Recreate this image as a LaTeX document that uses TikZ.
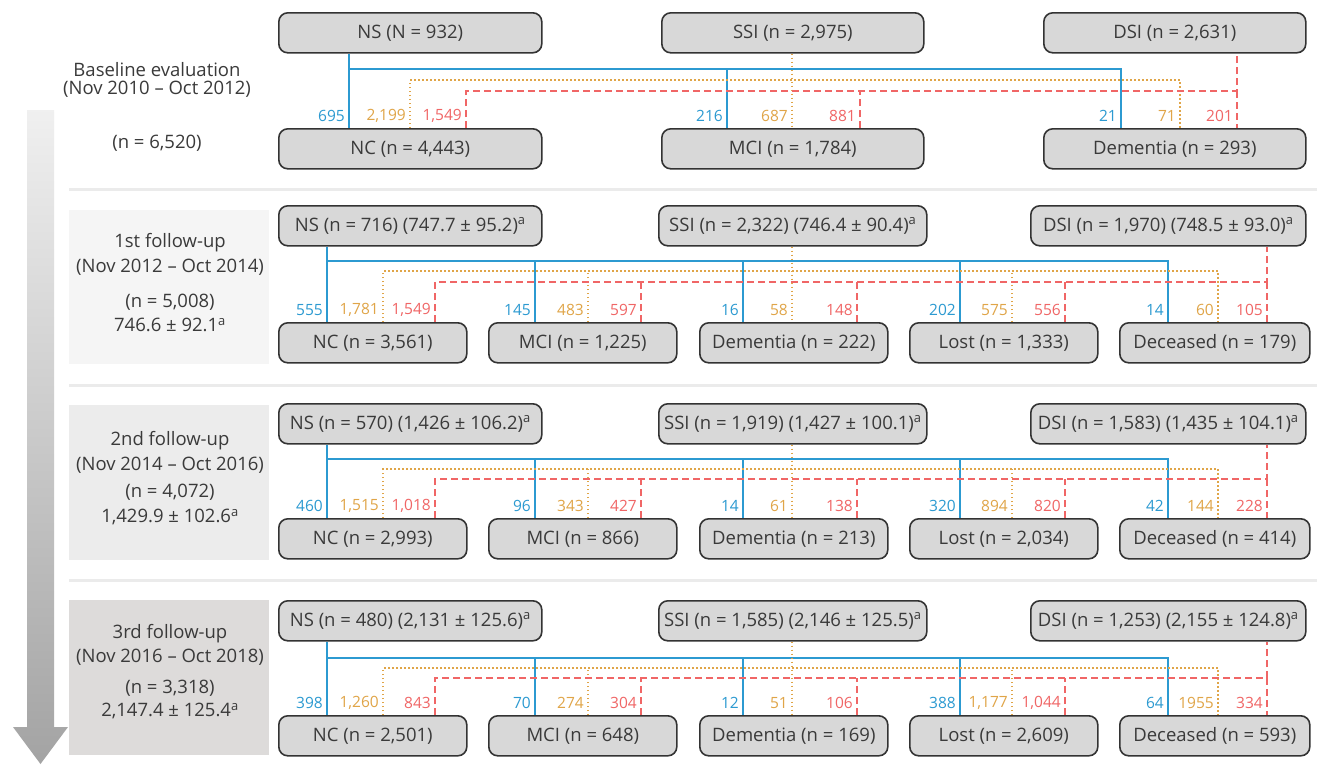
\documentclass[tikz,border=0pt]{standalone}
\usepackage{fontspec}
\setmainfont{Open Sans}
\definecolor{cblue}{HTML}{2C9AD1}
\definecolor{corange}{HTML}{E0A548}
\definecolor{cred}{HTML}{F06666}
\definecolor{boxfill}{HTML}{D8D8D8}
\definecolor{boxline}{HTML}{333333}
\definecolor{txt}{HTML}{3A3A3A}
\definecolor{panelA}{HTML}{F5F5F5}
\definecolor{panelB}{HTML}{ECECEC}
\definecolor{panelC}{HTML}{DDDBDA}
\definecolor{sepcol}{HTML}{EBEBEB}
\tikzset{
  box/.style={draw=boxline, line width=1.6pt, fill=boxfill, rounded corners=9pt,
    minimum height=40pt, inner sep=0pt, anchor=north west, text=txt,
    font=\fontsize{18.5}{22}\selectfont},
  lab/.style={anchor=east, inner sep=0pt, font=\fontsize{15.5}{18}\selectfont},
  side/.style={text=txt, inner sep=0pt, font=\fontsize{18.5}{22}\selectfont},
  bl/.style={draw=cblue, line width=1.5pt},
  orl/.style={draw=corange, line width=1.5pt, dash pattern=on 1.5pt off 2.5pt},
  rdl/.style={draw=cred, line width=1.5pt, dash pattern=on 7pt off 4pt},
  sepline/.style={draw=sepcol, line width=3pt}
}
\newcommand\trip[7]{%
  \node[lab,text=cblue] (#1b) at ([xshift=#2pt-4pt,yshift=12pt]#1.north west) {#5};
  \node[lab,text=corange] (#1o) at ([xshift=#3pt-4pt,yshift=12pt]#1.north west) {#6};
  \node[lab,text=cred] (#1r) at ([xshift=#4pt-4pt,yshift=12pt]#1.north west) {#7};
}
\newcommand\fulines[1]{%
  \draw[bl] ([xshift=49pt]ns#1.south west) -- ([xshift=49pt]nc#1.north west);
  \draw[bl] ([xshift=49pt]ns#1.south west |- hb#1) -| ([xshift=49pt]dec#1.north west);
  \draw[bl] ([xshift=47pt]mci#1.north west) -- ([xshift=47pt]mci#1.north west |- hb#1);
  \draw[bl] ([xshift=44pt]dem#1.north west) -- ([xshift=44pt]dem#1.north west |- hb#1);
  \draw[bl] ([xshift=51pt]lost#1.north west) -- ([xshift=51pt]lost#1.north west |- hb#1);
  \draw[orl] ([xshift=105pt]nc#1.north west) -- ([xshift=105pt]nc#1.north west |- ho#1) -| ([xshift=99pt]dec#1.north west);
  \draw[orl] ([xshift=134pt]ssi#1.south west) -- ([xshift=134pt]ssi#1.south west |- dem#1.north);
  \draw[orl] ([xshift=100pt]mci#1.north west) -- ([xshift=100pt]mci#1.north west |- ho#1);
  \draw[orl] ([xshift=103pt]lost#1.north west) -- ([xshift=103pt]lost#1.north west |- ho#1);
  \draw[rdl] ([xshift=157pt]nc#1.north west) -- ([xshift=157pt]nc#1.north west |- hr#1) -| ([xshift=237pt]dsi#1.south west);
  \draw[rdl] ([xshift=237pt]dsi#1.south west |- hr#1) -- ([xshift=237pt]dsi#1.south west |- dec#1.north);
  \draw[rdl] ([xshift=153pt]mci#1.north west) -- ([xshift=153pt]mci#1.north west |- hr#1);
  \draw[rdl] ([xshift=158pt]dem#1.north west) -- ([xshift=158pt]dem#1.north west |- hr#1);
  \draw[rdl] ([xshift=156pt]lost#1.north west) -- ([xshift=156pt]lost#1.north west |- hr#1);
}
\newcommand\fuboxes[9]{%
  \node[box,minimum width=263pt] (ns#1) at (278,#2) {#3};
  \node[box,minimum width=268pt] (ssi#1) at (658,#2) {#4};
  \node[box,minimum width=275pt] (dsi#1) at (1030,#2) {#5};
  \node[box,minimum width=188pt] (nc#1) at (278,#6) {#7};
  \node[box,minimum width=188pt] (mci#1) at (488,#6) {#8};
  \node[box,minimum width=188pt] (dem#1) at (699,#6) {#9};
}
\begin{document}
\begin{tikzpicture}[x=1pt,y=-1pt]
\useasboundingbox[fill=white] (0,0) rectangle (1317,764);
% panels and separators
\fill[panelA] (69,210) rectangle (269,364);
\fill[panelB] (69,405) rectangle (269,560);
\fill[panelC] (69,600) rectangle (269,755);
\draw[sepline] (69,189) -- (1317,189);
\draw[sepline] (69,385) -- (1317,385);
\draw[sepline] (69,580) -- (1317,580);
% time arrow
\shade[top color=white!94!black, bottom color=black!36]
  (27,110) -- (54,110) -- (54,727) -- (68,727) -- (40.5,764) -- (13,727) -- (27,727) -- cycle;
% side texts
\node[side] (b1) at (157,70) {Baseline evaluation};
\node[side] (b2) at (157,89) {(Nov 2010 – Oct 2012)};
\node[side] (b3) at (157,143) {(n = 6,520)};
\node[side] (f1a) at (170,243) {1st follow-up};
\node[side] (f1b) at (170,267) {(Nov 2012 – Oct 2014)};
\node[side] (f1c) at (170,302) {(n = 5,008)};
\node[side] (f1d) at (170,325) {746.6 ± 92.1\textsuperscript{a}};
\node[side] (f2a) at (170,441) {2nd follow-up};
\node[side] (f2b) at (170,465) {(Nov 2014 – Oct 2016)};
\node[side] (f2c) at (170,492) {(n = 4,072)};
\node[side] (f2d) at (170,517) {1,429.9 ± 102.6\textsuperscript{a}};
\node[side] (f3a) at (170,634) {3rd follow-up};
\node[side] (f3b) at (170,657) {(Nov 2016 – Oct 2018)};
\node[side] (f3c) at (170,688) {(n = 3,318)};
\node[side] (f3d) at (170,711) {2,147.4 ± 125.4\textsuperscript{a}};
% ---------- baseline ----------
\node[box,minimum width=263pt] (ns0) at (278,12) {NS (N = 932)};
\node[box,minimum width=262pt] (ssi0) at (661,12) {SSI (n = 2,975)};
\node[box,minimum width=262pt] (dsi0) at (1043,12) {DSI (n = 2,631)};
\node[box,minimum width=263pt] (nc0) at (278,128) {NC (n = 4,443)};
\node[box,minimum width=262pt] (mci0) at (661,128) {MCI (n = 1,784)};
\node[box,minimum width=262pt] (dem0) at (1043,128) {Dementia (n = 293)};
\coordinate (hb0) at (0,69);
\coordinate (ho0) at (0,80);
\coordinate (hr0) at (0,91);
\draw[bl] ([xshift=71pt]ns0.south west) -- ([xshift=71pt]nc0.north west);
\draw[bl] ([xshift=71pt]ns0.south west |- hb0) -| ([xshift=78pt]dem0.north west);
\draw[bl] ([xshift=66pt]mci0.north west) -- ([xshift=66pt]mci0.north west |- hb0);
\draw[orl] ([xshift=132pt]nc0.north west) -- ([xshift=132pt]nc0.north west |- ho0) -| ([xshift=137pt]dem0.north west);
\draw[orl] ([xshift=131pt]ssi0.south west) -- ([xshift=131pt]mci0.north west);
\draw[rdl] ([xshift=188pt]nc0.north west) -- ([xshift=188pt]nc0.north west |- hr0) -| ([xshift=194pt]dsi0.south west);
\draw[rdl] ([xshift=194pt]dsi0.south west |- hr0) -- ([xshift=194pt]dem0.north west);
\draw[rdl] ([xshift=199pt]mci0.north west) -- ([xshift=199pt]mci0.north west |- hr0);
\trip{nc0}{71}{132}{188}{695}{2,199}{1,549}
\trip{mci0}{66}{131}{199}{216}{687}{881}
\trip{dem0}{78}{137}{194}{21}{71}{201}
% ---------- 1st follow-up ----------
\fuboxes{1}{205}{NS (n = 716) (747.7 ± 95.2)\textsuperscript{a}}{SSI (n = 2,322) (746.4 ± 90.4)\textsuperscript{a}}{DSI (n = 1,970) (748.5 ± 93.0)\textsuperscript{a}}{322}{NC (n = 3,561)}{MCI (n = 1,225)}{Dementia (n = 222)}
\node[box,minimum width=188pt] (lost1) at (909,322) {Lost (n = 1,333)};
\node[box,minimum width=190pt] (dec1) at (1119,322) {Deceased (n = 179)};
\coordinate (hb1) at (0,261);
\coordinate (ho1) at (0,271);
\coordinate (hr1) at (0,282);
\fulines{1}
\trip{nc1}{49}{105}{157}{555}{1,781}{1,549}
\trip{mci1}{47}{100}{153}{145}{483}{597}
\trip{dem1}{44}{93}{158}{16}{58}{148}
\trip{lost1}{51}{103}{156}{202}{575}{556}
\trip{dec1}{49}{99}{148}{14}{60}{105}
% ---------- 2nd follow-up ----------
\fuboxes{2}{403}{NS (n = 570) (1,426 ± 106.2)\textsuperscript{a}}{SSI (n = 1,919) (1,427 ± 100.1)\textsuperscript{a}}{DSI (n = 1,583) (1,435 ± 104.1)\textsuperscript{a}}{518}{NC (n = 2,993)}{MCI (n = 866)}{Dementia (n = 213)}
\node[box,minimum width=188pt] (lost2) at (909,518) {Lost (n = 2,034)};
\node[box,minimum width=190pt] (dec2) at (1119,518) {Deceased (n = 414)};
\coordinate (hb2) at (0,459);
\coordinate (ho2) at (0,469);
\coordinate (hr2) at (0,479);
\fulines{2}
\trip{nc2}{49}{105}{157}{460}{1,515}{1,018}
\trip{mci2}{47}{100}{153}{96}{343}{427}
\trip{dem2}{44}{93}{158}{14}{61}{138}
\trip{lost2}{51}{103}{156}{320}{894}{820}
\trip{dec2}{49}{99}{148}{42}{144}{228}
% ---------- 3rd follow-up ----------
\fuboxes{3}{600}{NS (n = 480) (2,131 ± 125.6)\textsuperscript{a}}{SSI (n = 1,585) (2,146 ± 125.5)\textsuperscript{a}}{DSI (n = 1,253) (2,155 ± 124.8)\textsuperscript{a}}{715}{NC (n = 2,501)}{MCI (n = 648)}{Dementia (n = 169)}
\node[box,minimum width=188pt] (lost3) at (909,715) {Lost (n = 2,609)};
\node[box,minimum width=190pt] (dec3) at (1119,715) {Deceased (n = 593)};
\coordinate (hb3) at (0,658);
\coordinate (ho3) at (0,668);
\coordinate (hr3) at (0,678);
\fulines{3}
\trip{nc3}{49}{105}{157}{398}{1,260}{843}
\trip{mci3}{47}{100}{153}{70}{274}{304}
\trip{dem3}{44}{93}{158}{12}{51}{106}
\trip{lost3}{51}{103}{156}{388}{1,177}{1,044}
\trip{dec3}{49}{99}{148}{64}{1955}{334}
\end{tikzpicture}
\end{document}
